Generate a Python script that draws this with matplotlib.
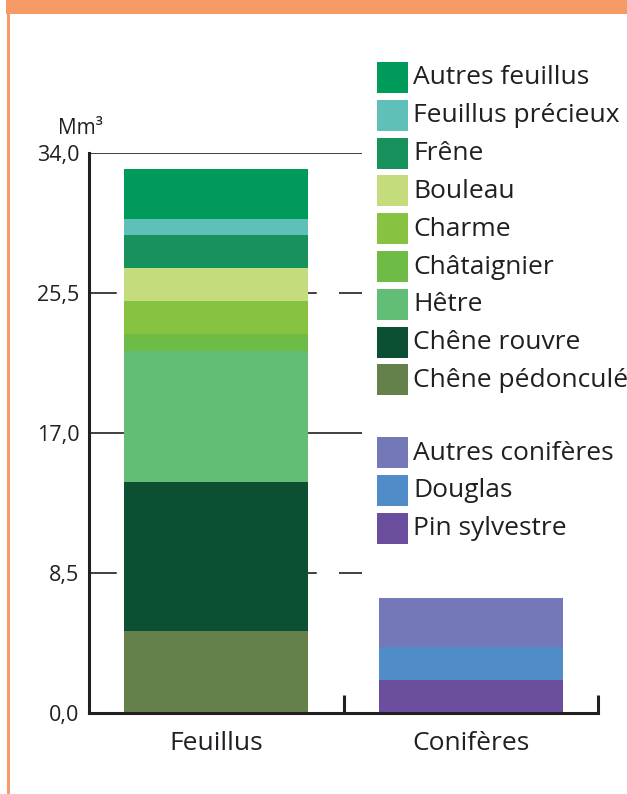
import matplotlib
matplotlib.use("Agg")
import matplotlib.pyplot as plt
from matplotlib.patches import Rectangle
import numpy as np

plt.rcParams['font.family'] = ['Open Sans', 'DejaVu Sans']
plt.rcParams['lines.scale_dashes'] = False

# ---------------- data ----------------
categories = ["Feuillus", "Conifères"]

feuillus_species = ["Chêne pédonculé", "Chêne rouvre", "Hêtre", "Châtaignier",
                    "Charme", "Bouleau", "Frêne", "Feuillus précieux", "Autres feuillus"]
feuillus_values = [5.0, 9.0, 8.0, 1.0, 2.0, 2.0, 2.0, 1.0, 3.0]
feuillus_colors = ["#64814B", "#0C4F33", "#62BE76", "#6EBB46",
                   "#88C241", "#C5DC7D", "#18925C", "#5FC0BA", "#009B5A"]

coniferes_species = ["Pin sylvestre", "Douglas", "Autres conifères"]
coniferes_values = [2.0, 2.0, 3.0]
coniferes_colors = ["#6B4E9E", "#508CC8", "#7578B8"]

y_ticks = [0.0, 8.5, 17.0, 25.5, 34.0]
y_tick_labels = ["0,0", "8,5", "17,0", "25,5", "34,0"]
unit_label = "Mm³"

# ---------------- figure ----------------
W, H = 627, 794
DPI = 100
fig = plt.figure(figsize=(W / DPI, H / DPI), dpi=DPI)
fig.patch.set_facecolor("white")

def fx(px):
    return px / W

def fy(py):
    return 1 - py / H

TXT = "#231F20"
LINE = "#231F20"

ax_left, ax_right, ax_top, ax_bot = 89, 598, 153, 713
ax = fig.add_axes([fx(ax_left), fy(ax_bot), (ax_right - ax_left) / W, (ax_bot - ax_top) / H])
ax.set_xlim(0, 2)
ax.set_ylim(0, 34)
ax.patch.set_alpha(0)

# grid lines (end before legend)
x_end = (362 - ax_left) / ((ax_right - ax_left) / 2)
for yv in y_ticks[1:]:
    if yv in (17.0, 34.0):
        ax.plot([0, x_end], [yv, yv], color=LINE, lw=1.2, zorder=1, solid_capstyle="butt")
    else:
        ax.plot([0, x_end], [yv, yv], color=LINE, lw=1.2, zorder=1,
                linestyle=(0, (20, 16)), dash_capstyle="butt")

positions = [0.5, 1.5]
bar_w = 0.723

bottom = 0.0
for v, c in zip(feuillus_values, feuillus_colors):
    ax.bar(positions[0], v, bottom=bottom, width=bar_w, color=c, edgecolor="none", zorder=3)
    bottom += v

bottom = 0.0
for v, c in zip(coniferes_values, coniferes_colors):
    ax.bar(positions[1], v, bottom=bottom, width=bar_w, color=c, edgecolor="none", zorder=3)
    bottom += v

for s in ["top", "right"]:
    ax.spines[s].set_visible(False)
for s in ["left", "bottom"]:
    ax.spines[s].set_linewidth(2.2)
    ax.spines[s].set_color(LINE)
    ax.spines[s].set_zorder(4)
ax.spines["left"].set_bounds(0, 34)

ax.set_yticks(y_ticks)
ax.set_yticklabels(y_tick_labels)
ax.tick_params(axis="y", length=0, pad=7, labelsize=15.5, labelcolor=TXT)

ax.set_xticks(positions)
ax.set_xticklabels(categories)
ax.tick_params(axis="x", which="major", length=0, pad=13, labelsize=19, labelcolor=TXT)
ax.set_xticks([1.0, 2.0], minor=True)
ax.tick_params(axis="x", which="minor", direction="in", length=13, width=2.2, color=LINE)

fig.text(fx(58), fy(129), unit_label, fontsize=15, color=TXT, va="center", ha="left")

# ---------------- legend ----------------
legend_rows = list(zip(feuillus_species[::-1], feuillus_colors[::-1]))
conif_rows = list(zip(coniferes_species[::-1], coniferes_colors[::-1]))

pitch = 37.8
LEG_FS = 19
y0 = 62
for i, (name, c) in enumerate(legend_rows):
    yt = y0 + i * pitch
    fig.add_artist(Rectangle((fx(377), fy(yt + 31)), 31 / W, 31 / H,
                             transform=fig.transFigure, facecolor=c, edgecolor="none"))
    fig.text(fx(413), fy(yt + 16), name, fontsize=LEG_FS, color=TXT, va="center", ha="left")

y1 = 437
for i, (name, c) in enumerate(conif_rows):
    yt = y1 + i * pitch
    fig.add_artist(Rectangle((fx(377), fy(yt + 31)), 31 / W, 31 / H,
                             transform=fig.transFigure, facecolor=c, edgecolor="none"))
    fig.text(fx(413), fy(yt + 16), name, fontsize=LEG_FS, color=TXT, va="center", ha="left")

# ---------------- orange frame ----------------
fig.add_artist(Rectangle((fx(6), fy(14)), (W - 6) / W, 14 / H,
                         transform=fig.transFigure, facecolor="#F79B66", edgecolor="none"))
fig.add_artist(Rectangle((fx(7), 0), 2.5 / W, fy(14),
                         transform=fig.transFigure, facecolor="#F79B66", edgecolor="none"))

fig.savefig("out.png", dpi=DPI)
